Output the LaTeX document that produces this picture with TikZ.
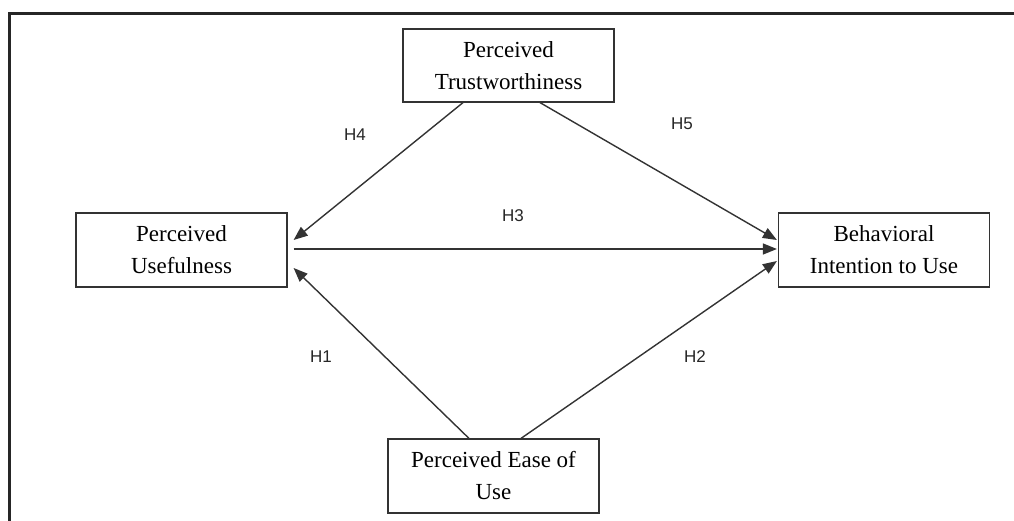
\documentclass[tikz,border=0pt]{standalone}
\usepackage{fontspec}
\setmainfont{Liberation Serif}
\newfontfamily\labelfont{Liberation Sans}
\usetikzlibrary{arrows.meta,calc}
\begin{document}
\begin{tikzpicture}[x=1pt,y=-1pt,
  construct/.style={draw=black!80,line width=1.2pt,fill=white,minimum width=211pt,minimum height=74pt,
    align=center,font=\fontsize{23}{32}\selectfont,inner sep=0pt},
  path/.style={draw=black!80,line width=1.4pt,-{Triangle[length=14pt,width=11pt]}},
  hyp/.style={font=\labelfont\fontsize{17}{20}\selectfont,text=black!85}]
\useasboundingbox (0,0) rectangle (1014,521);
% open frame: top and left edges only
\draw[line width=2.4pt,black!85] (9.5,521) -- (9.5,13.5) -- (1014,13.5);

\node[construct,minimum height=73pt] (trust) at (508.5,65.5) {Perceived\\Trustworthiness};
\node[construct] (useful) at (181.5,250) {Perceived\\Usefulness};
\node[construct] (intent) at (884,250) {Behavioral\\Intention to Use};
\node[construct] (ease) at (493.5,476) {Perceived Ease of\\Use};

% arrow end points just off the box edges
\coordinate (uTop) at ($(useful.east)+(6,-10)$);
\coordinate (uMid) at ($(useful.east)+(6,-1)$);
\coordinate (uBot) at ($(useful.east)+(6,18)$);
\coordinate (iTop) at ($(intent.west)+(-1,-10)$);
\coordinate (iMid) at ($(intent.west)+(-1,-1)$);
\coordinate (iBot) at ($(intent.west)+(-1,11)$);

\draw[path] ($(trust.south)+(-45.5,0)$) -- (uTop);
\draw[path] ($(trust.south)+(31.5,0)$) -- (iTop);
\draw[path] (uMid) -- (iMid);
\draw[path] ($(ease.north)+(-24.5,0)$) -- (uBot);
\draw[path] ($(ease.north)+(27.5,0)$) -- (iBot);

\node[hyp] (h4) at (355,135) {H4};
\node[hyp] (h5) at (682,124) {H5};
\node[hyp] (h3) at (513,216) {H3};
\node[hyp] (h1) at (321,357) {H1};
\node[hyp] (h2) at (695,357) {H2};
\end{tikzpicture}
\end{document}
